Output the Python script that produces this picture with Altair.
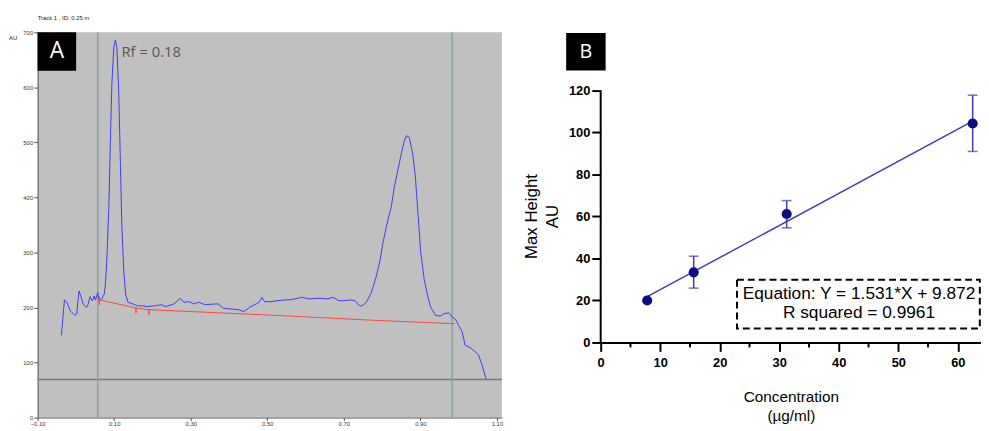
import altair as alt
import pandas as pd

# ---------------- Panel A: densitogram (Rf vs AU) ----------------
trace_rf = [-0.038, -0.030, -0.023, -0.015, -0.002, 0.002, 0.008, 0.014, 0.019, 0.028,
            0.032, 0.037, 0.043, 0.048, 0.051, 0.057, 0.061, 0.067, 0.074, 0.077,
            0.081, 0.086, 0.090, 0.094, 0.099, 0.103, 0.107, 0.112, 0.116, 0.120,
            0.125, 0.130, 0.136, 0.149, 0.161, 0.174, 0.187, 0.205, 0.222, 0.235,
            0.256, 0.273, 0.282, 0.295, 0.308, 0.321, 0.338, 0.355, 0.372, 0.385,
            0.402, 0.424, 0.439, 0.454, 0.471, 0.480, 0.486, 0.493, 0.510, 0.527,
            0.544, 0.561, 0.579, 0.592, 0.609, 0.626, 0.643, 0.656, 0.672, 0.686,
            0.699, 0.716, 0.729, 0.738, 0.746, 0.759, 0.772, 0.785, 0.795, 0.802,
            0.815, 0.824, 0.832, 0.841, 0.850, 0.858, 0.864, 0.871, 0.880, 0.887,
            0.893, 0.901, 0.910, 0.919, 0.927, 0.940, 0.953, 0.961, 0.974, 0.983,
            0.992, 1.000, 1.009, 1.017, 1.030, 1.043, 1.052, 1.061, 1.072]
trace_au = [149.5, 213.6, 209, 194, 185.5, 188, 230, 218, 206, 200,
            206, 219.6, 212, 221, 213.6, 227, 212, 215, 224, 242,
            290, 380, 500, 607, 673, 686, 673, 589, 470, 350,
            266, 224, 209.5, 206.5, 203, 203, 201.6, 203, 205, 201.6,
            206.5, 216.6, 209.5, 210.6, 206.5, 209.5, 205, 206, 206.5, 198.7,
            197.5, 196, 192.6, 200.5, 206.5, 210.6, 218.5, 210.6, 210.6, 212.4,
            213.6, 214.2, 216.6, 218.5, 215.4, 216.6, 216.6, 215.4, 218.5, 212.4,
            212.4, 213.6, 212.4, 204.7, 202.3, 209.5, 227.5, 257, 287, 317,
            359, 383, 419, 449, 479, 503, 512, 509, 479, 437,
            377, 299, 251, 221, 200.5, 185.5, 184.4, 188.5, 190.3, 182.6,
            178, 167.5, 155.6, 131.6, 127, 119.7, 113.6, 95.7, 70]

baseline_rf = [0.060, 0.157, 0.191, 0.527, 0.785, 0.990]
baseline_au = [214, 199, 196, 185.5, 176.5, 170.5]

tickmark_rf = [0.061, 0.157, 0.191]
tickmark_top = [220, 199, 196]
tickmark_bottom = [205, 190, 187]

boundary_rf = [0.057, 0.983]
floor_au = [69]

a_xticks = [-0.10, 0.10, 0.30, 0.50, 0.70, 0.90, 1.10]
a_yticks = [0, 100, 200, 300, 400, 500, 600, 700]
A_XDOM = [-0.10, 1.113]
A_YDOM = [0, 700]

# ---------------- Panel B: calibration curve ----------------
conc = [7.8125, 15.625, 31.25, 62.5]
height_mean = [20.0, 33.4, 61.2, 104.3]
height_low = [20.0, 25.9, 54.6, 91.0]
height_high = [20.0, 41.1, 67.6, 117.8]
fit_x = [7.8125, 62.5]
fit_y = [21.8, 105.4]

b_xticks = [0, 10, 20, 30, 40, 50, 60]
b_minor = [5, 15, 25, 35, 45, 55]
b_yticks = [0, 20, 40, 60, 80, 100, 120]
B_XDOM = [0, 63.9]
B_YDOM = [0, 147.76]

eq_lines = ["Equation: Y = 1.531*X + 9.872", "R squared = 0.9961"]

A_W, A_H = 470, 390
B_W, B_H = 385, 314

# ---------------- Panel A chart ----------------
a_xaxis = alt.Axis(values=a_xticks, format=".2f", labelFontSize=6, labelColor="#333333",
                   tickColor="#555555", tickSize=3, labelPadding=0, domainColor="#555555",
                   labelFlush=False, grid=False, title=None)
a_yaxis = alt.Axis(values=a_yticks, format="d", labelFontSize=6, labelColor="#333333",
                   tickColor="#555555", tickSize=4, labelPadding=1, domainColor="#555555",
                   labelFlush=False, grid=False, title=None)


def ax(field="x"):
    return alt.X(f"{field}:Q", scale=alt.Scale(domain=A_XDOM, nice=False, zero=False), axis=a_xaxis)


def ay(field="y"):
    return alt.Y(f"{field}:Q", scale=alt.Scale(domain=A_YDOM, nice=False, zero=False), axis=a_yaxis)


trace_df = pd.DataFrame({"x": trace_rf, "y": trace_au})
base_df = pd.DataFrame({"x": baseline_rf, "y": baseline_au})
tm_df = pd.DataFrame({"x": tickmark_rf, "y": tickmark_top, "y2": tickmark_bottom})
bnd_df = pd.DataFrame({"x": boundary_rf})
floor_df = pd.DataFrame({"y": floor_au})

a_floor = alt.Chart(floor_df).mark_rule(color="#7a7a7a", strokeWidth=1.5).encode(y=ay())
a_bnd = alt.Chart(bnd_df).mark_rule(color="#86a3a3", strokeWidth=1.5).encode(x=ax())
a_trace = alt.Chart(trace_df).mark_line(color="#3c3cf5", strokeWidth=1).encode(x=ax(), y=ay())
a_base = alt.Chart(base_df).mark_line(color="#f04848", strokeWidth=1).encode(x=ax(), y=ay())
a_tm = alt.Chart(tm_df).mark_rule(color="#f04848", strokeWidth=1.5).encode(
    x=ax(), y=ay(), y2=alt.Y2("y2"))

# annotation positions (data units)
a_label_df = pd.DataFrame({"x": [-0.10], "x2": [0.0006], "y": [700], "y2": [630],
                           "tx": [-0.0497], "ty": [665], "t": ["A"]})
a_box = alt.Chart(a_label_df).mark_rect(color="black").encode(
    x=ax(), x2=alt.X2("x2"), y=ay(), y2=alt.Y2("y2"))
a_letter = alt.Chart(a_label_df).mark_text(color="white", fontSize=23, font="Open Sans",
                                           baseline="middle").encode(
    x=ax("tx"), y=ay("ty"), text="t:N")
rf_df = pd.DataFrame({"x": [0.119], "y": [664], "t": ["Rf = 0.18"]})
a_rf = alt.Chart(rf_df).mark_text(color="#555555", fontSize=15, font="Open Sans",
                                  align="left", baseline="middle").encode(
    x=ax(), y=ay(), text="t:N")
track_df = pd.DataFrame({"x": [-0.10], "y": [730.5], "t": ["Track 1 , ID: 0.25 m"]})
a_track = alt.Chart(track_df).mark_text(color="#222222", fontSize=6, align="left",
                                        baseline="top").encode(
    x=ax(), y=ay(), text="t:N")
au_df = pd.DataFrame({"x": [-0.1748], "y": [689], "t": ["AU"]})
a_au = alt.Chart(au_df).mark_text(color="#222222", fontSize=6, align="left",
                                  baseline="middle").encode(
    x=ax(), y=ay(), text="t:N")

panel_a = alt.layer(a_floor, a_bnd, a_trace, a_base, a_tm, a_box, a_letter, a_rf,
                    a_track, a_au).properties(
    width=A_W, height=A_H, view=alt.ViewBackground(fill="#c0c0c0", strokeWidth=0))

# ---------------- Panel B chart ----------------
b_xaxis = alt.Axis(values=b_xticks, format="d", labelFontSize=13, labelFontWeight="bold",
                   labelColor="black", tickColor="black", tickWidth=2, tickSize=9,
                   domainColor="black", domainWidth=2, labelPadding=5, labelFlush=False,
                   grid=False, title=["Concentration", "(\u00b5g/ml)"], titleFontSize=15.5,
                   titleFontWeight="normal", titleColor="black", titlePadding=21,
                   titleLineHeight=19)
b_yaxis = alt.Axis(values=b_yticks, format="d", labelFontSize=13, labelFontWeight="bold",
                   labelColor="black", tickColor="black", tickWidth=2, tickSize=9,
                   domain=False, labelPadding=2, labelFlush=False, grid=False,
                   title=["Max Height", "AU"], titleFontSize=17, titleFontWeight="normal",
                   titleColor="black", titlePadding=7, titleLineHeight=21, titleY=186)


def bx(field="x"):
    return alt.X(f"{field}:Q", scale=alt.Scale(domain=B_XDOM, nice=False, zero=False), axis=b_xaxis)


def by(field="y"):
    return alt.Y(f"{field}:Q", scale=alt.Scale(domain=B_YDOM, nice=False, zero=False), axis=b_yaxis)


yline_df = pd.DataFrame({"x": [0], "y": [0], "y2": [120]})
b_yline = alt.Chart(yline_df).mark_rule(color="black", strokeWidth=2).encode(
    x=bx(), y=by(), y2=alt.Y2("y2"))
minor_df = pd.DataFrame({"x": b_minor})
b_minor_ticks = alt.Chart(minor_df).mark_rule(color="black", strokeWidth=2).encode(
    x=bx(), y=alt.value(B_H), y2=alt.value(B_H + 5))
fit_df = pd.DataFrame({"x": fit_x, "y": fit_y})
b_fit = alt.Chart(fit_df).mark_line(color="#3f3fb2", strokeWidth=1.5).encode(x=bx(), y=by())
pts_df = pd.DataFrame({"x": conc, "y": height_mean, "lo": height_low, "hi": height_high})
err_df = pts_df[pts_df["hi"] > pts_df["lo"]]
b_err = alt.Chart(err_df).mark_rule(color="#3b3bab", strokeWidth=1.5).encode(
    x=bx(), y=by("lo"), y2=alt.Y2("hi"))
b_cap_lo = alt.Chart(err_df).mark_tick(color="#3b3bab", orient="horizontal", size=10,
                                       thickness=1.5).encode(x=bx(), y=by("lo"))
b_cap_hi = alt.Chart(err_df).mark_tick(color="#3b3bab", orient="horizontal", size=10,
                                       thickness=1.5).encode(x=bx(), y=by("hi"))
b_pts = alt.Chart(pts_df).mark_circle(color="#0c0c7e", size=105, opacity=1).encode(
    x=bx(), y=by())

box_df = pd.DataFrame({"x": [22.9], "x2": [63.7], "y": [29.9], "y2": [6.7]})
b_box = alt.Chart(box_df).mark_rect(fillOpacity=0, stroke="black", strokeWidth=2,
                                    strokeDash=[7, 4]).encode(
    x=bx(), x2=alt.X2("x2"), y=by(), y2=alt.Y2("y2"))
eq_df = pd.DataFrame({"x": [43.4, 43.4], "y": [23.2, 13.8], "t": eq_lines})
b_eq = alt.Chart(eq_df).mark_text(color="black", fontSize=17.5, baseline="middle").encode(
    x=bx(), y=by(), text="t:N")

b_label_df = pd.DataFrame({"x": [-5.8], "x2": [0.83], "y": [147.4], "y2": [129.6],
                           "tx": [-2.49], "ty": [138.5], "t": ["B"]})
b_lbox = alt.Chart(b_label_df).mark_rect(color="black").encode(
    x=bx(), x2=alt.X2("x2"), y=by(), y2=alt.Y2("y2"))
b_letter = alt.Chart(b_label_df).mark_text(color="white", fontSize=20, font="Open Sans",
                                           baseline="middle").encode(
    x=bx("tx"), y=by("ty"), text="t:N")

panel_b = alt.layer(b_yline, b_minor_ticks, b_fit, b_err, b_cap_lo, b_cap_hi, b_pts,
                    b_box, b_eq, b_lbox, b_letter).properties(width=B_W, height=B_H)

chart = alt.hconcat(panel_a, panel_b, spacing=100, bounds="flush").properties(
    padding={"left": 1, "top": 5, "right": 0, "bottom": 0}
).configure(font="Liberation Sans").configure_view(strokeWidth=0)

chart.save("out.html", embed_options={"renderer": "svg", "actions": False})
